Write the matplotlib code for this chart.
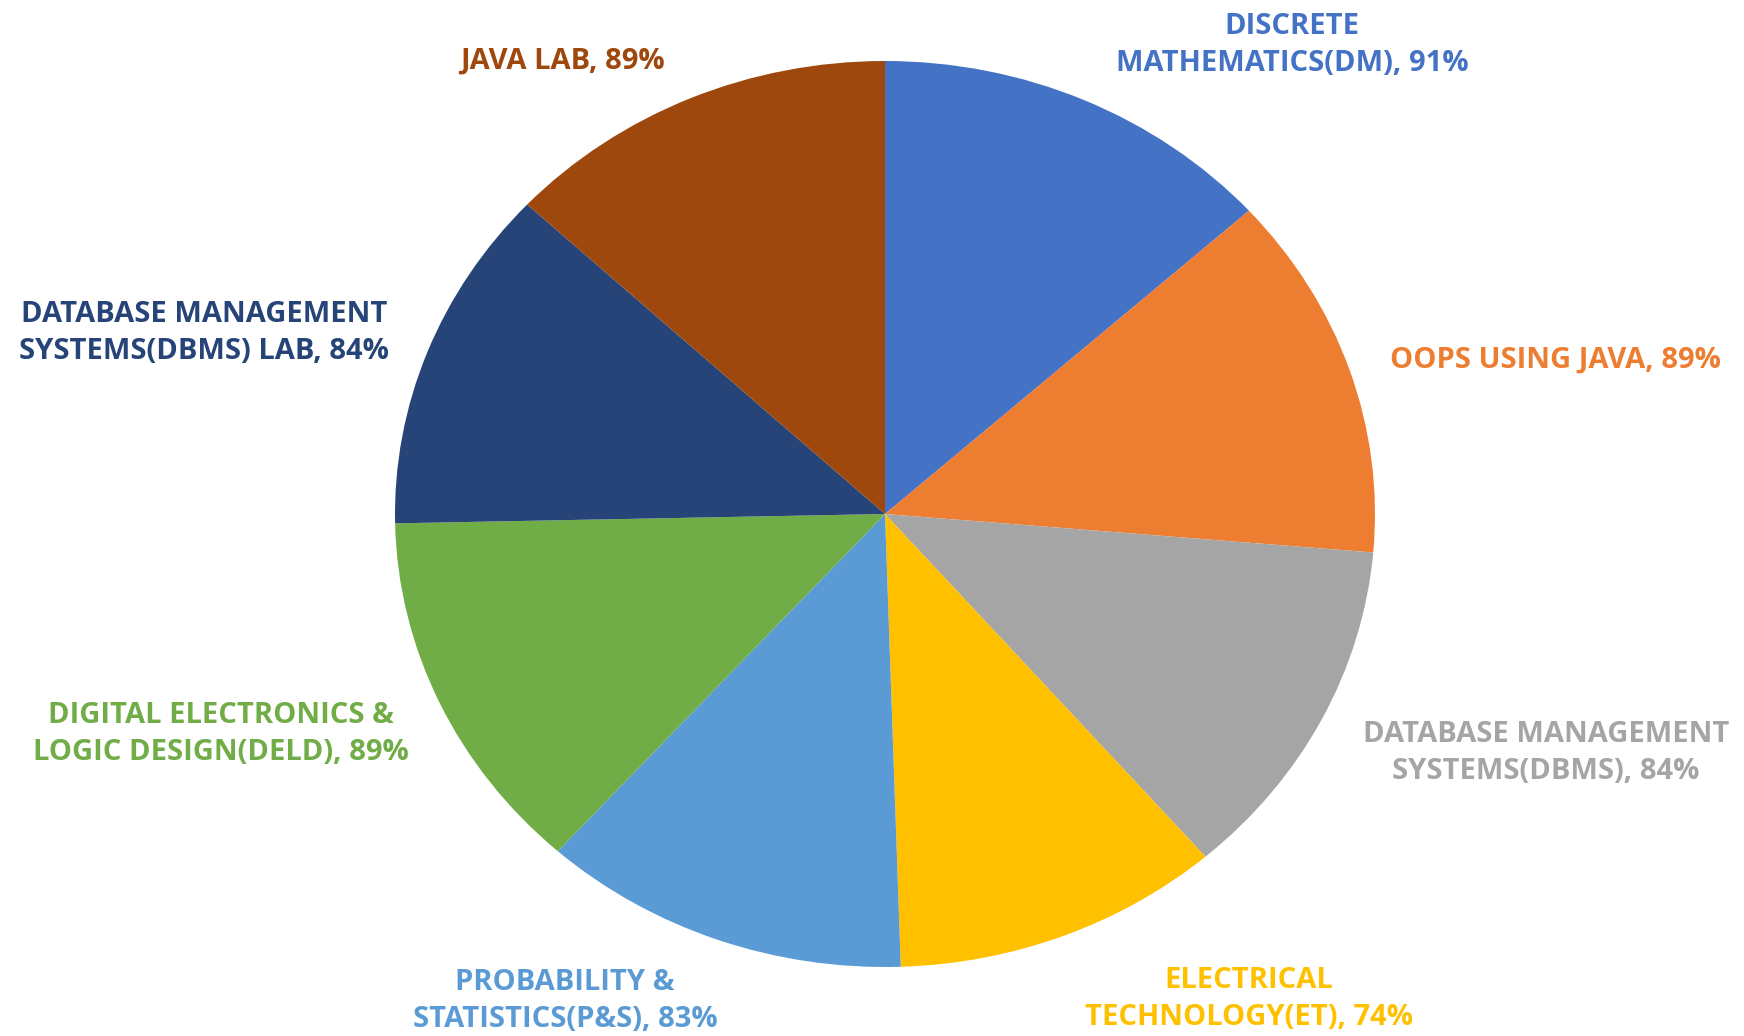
import matplotlib.pyplot as plt

# subjects and pass percentages, clockwise from the top
subjects = ['DISCRETE\nMATHEMATICS(DM)', 'OOPS USING JAVA',
            'DATABASE MANAGEMENT\nSYSTEMS(DBMS)', 'ELECTRICAL\nTECHNOLOGY(ET)',
            'PROBABILITY &\nSTATISTICS(P&S)', 'DIGITAL ELECTRONICS &\nLOGIC DESIGN(DELD)',
            'DATABASE MANAGEMENT\nSYSTEMS(DBMS) LAB', 'JAVA LAB']
percent = [91, 89, 84, 74, 83, 89, 84, 89]
colors = ['#4472C4', '#ED7D31', '#A5A5A5', '#FFC000',
          '#5B9BD5', '#70AD47', '#264478', '#9E480E']

# label centres in pixels (x from left, y from top)
label_pos = [(1292, 45), (1555, 360), (1546, 753), (1249, 999),
             (565, 1001), (221, 734), (204, 333), (562, 61)]

W, H = 1744, 1036
fig = plt.figure(figsize=(W / 100, H / 100), dpi=100)

# pie is slightly wider than tall in the reference
cx, cy, rx, ry = 885, 514, 490, 453
ax = fig.add_axes([(cx - rx) / W, (H - cy - ry) / H, 2 * rx / W, 2 * ry / H])
ax.pie(percent, colors=colors, startangle=90, counterclock=False,
       wedgeprops=dict(linewidth=0))
ax.set_aspect('auto')
ax.set_xlim(-1, 1)
ax.set_ylim(-1, 1)
ax.axis('off')

for name, val, col, (x, y) in zip(subjects, percent, colors, label_pos):
    fig.text(x / W, 1 - y / H, f'{name}, {val}%', color=col,
             ha='center', va='center', multialignment='center',
             fontsize=21, fontweight='bold', family=['Open Sans', 'DejaVu Sans'],
             linespacing=1.4)

fig.savefig('out.png', dpi=100, facecolor='white')
